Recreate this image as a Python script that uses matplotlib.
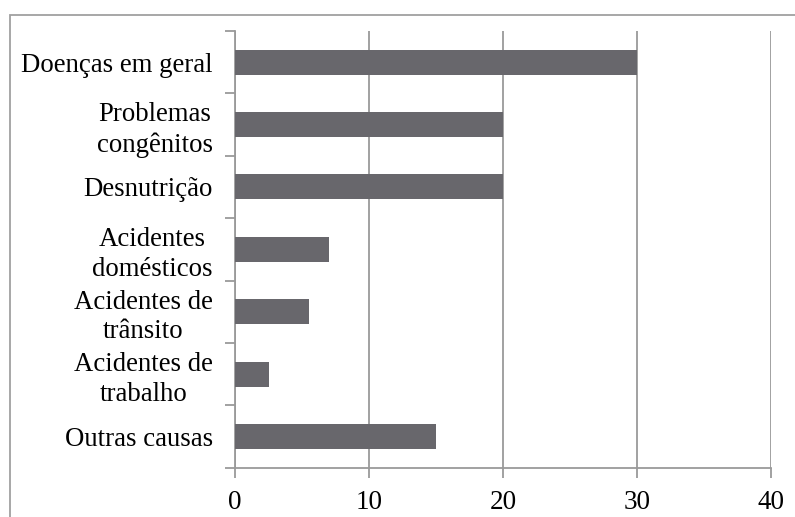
import matplotlib
matplotlib.use('Agg')
from matplotlib import pyplot as plt
from matplotlib.patches import Rectangle

causas = ['Doenças em geral', 'Problemas\ncongênitos', 'Desnutrição',
          'Acidentes\ndomésticos', 'Acidentes de\ntrânsito',
          'Acidentes de\ntrabalho', 'Outras causas']
valores = [30, 20, 20, 7, 5.5, 2.5, 15]
xticks = [0, 10, 20, 30, 40]

plt.rcParams['font.family'] = ['Liberation Serif', 'DejaVu Serif']

grid_c = '#9a9a9a'
bar_c = '#68676c'

fig = plt.figure(figsize=(7.95, 5.17), dpi=100)
ax = fig.add_axes([235 / 795, 1 - 467.7 / 517, (771 - 235) / 795, (467.7 - 31) / 517])

pos = list(range(len(causas)))
ax.barh(pos, valores, height=0.4, color=bar_c, zorder=3)

ax.set_xlim(0, 40)
ax.set_ylim(len(causas) - 0.5, -0.5)
ax.set_xticks(xticks)
ax.xaxis.grid(True, color=grid_c, linewidth=1.3, zorder=0)

# tick marks sit between categories, labels at the centres
ax.set_yticks([p - 0.5 for p in pos] + [len(causas) - 0.5])
ax.set_yticklabels([])
ax.set_yticks(pos, minor=True)
ax.set_yticklabels(causas, minor=True, fontsize=19.3, linespacing=1.25, ha='right')
for lab in ax.get_yticklabels(minor=True):
    lab.set_multialignment('center')

ax.tick_params(axis='y', which='major', length=7, width=1.3, color=grid_c, direction='out')
ax.tick_params(axis='y', which='minor', length=0, pad=16)
ax.tick_params(axis='x', length=7, width=1.3, color=grid_c, labelsize=19.5, pad=9)

for s in ['top', 'right']:
    ax.spines[s].set_visible(False)
for s in ['left', 'bottom']:
    ax.spines[s].set_color(grid_c)
    ax.spines[s].set_linewidth(1.3)

# outer frame, cut off on the right and bottom
fig.patches.append(Rectangle((10 / 795, -0.1), 1.2, 1.1 - 15 / 517,
                             transform=fig.transFigure, fill=False,
                             edgecolor='#a0a0a0', linewidth=1.3))

fig.savefig('out.png', dpi=100)
